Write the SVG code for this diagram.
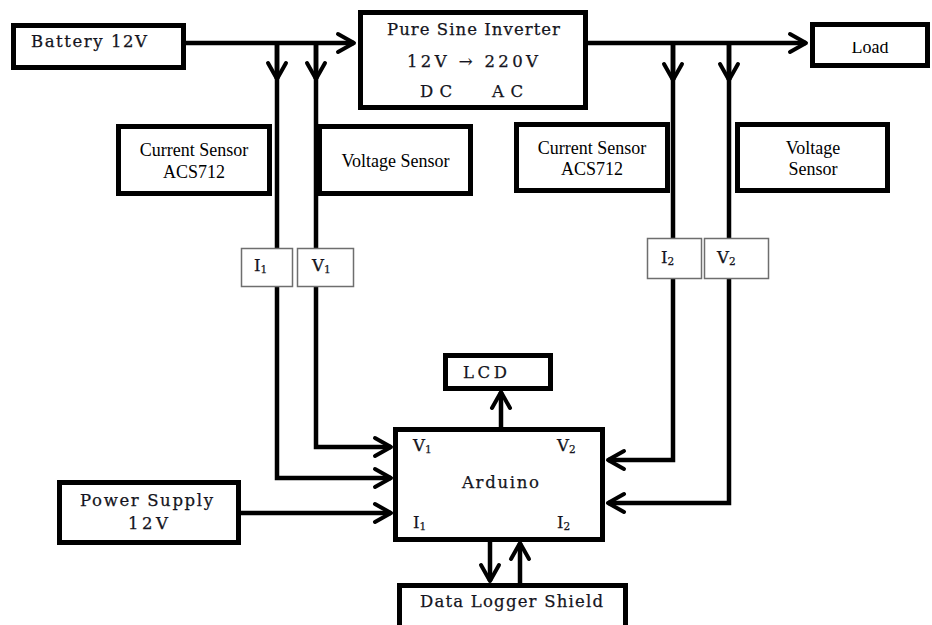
<svg xmlns="http://www.w3.org/2000/svg" width="932" height="625" viewBox="0 0 932 625">
<style>
.box{fill:#fff;stroke:#000;stroke-width:5}
.sm{fill:#fff;stroke:#6e6e6e;stroke-width:1.5}
.ln{fill:none;stroke:#000;stroke-width:4.5;stroke-linejoin:miter}
.c{font-family:"DejaVu Serif","Liberation Serif",serif;font-size:16.5px;fill:#141420;stroke:#141420;stroke-width:0.25}
.t{font-family:"Liberation Serif","Times New Roman",serif;font-size:18px;fill:#000;text-anchor:middle}
.sub{font-size:10.5px}
</style>
<defs>
<marker id="ah" markerUnits="userSpaceOnUse" markerWidth="26" markerHeight="26" viewBox="-22 -13 26 26" refX="0" refY="0" orient="auto">
<path d="M-16,-9 L0,0 L-16,9" fill="none" stroke="#000" stroke-width="4" stroke-linejoin="round" stroke-linecap="round"/>
</marker>
<clipPath id="loadclip"><rect x="812" y="42" width="116" height="24"/></clipPath>
</defs>

<g id="connectors">
<path class="ln" d="M186,43 H354" marker-end="url(#ah)"/>
<path class="ln" d="M588,43 H806" marker-end="url(#ah)"/>
<path class="ln" d="M277,43 V79" marker-end="url(#ah)"/>
<path class="ln" d="M316,43 V79" marker-end="url(#ah)"/>
<path class="ln" d="M673,43 V80" marker-end="url(#ah)"/>
<path class="ln" d="M729,43 V80" marker-end="url(#ah)"/>
<path class="ln" d="M277,41 V478 H391" marker-end="url(#ah)"/>
<path class="ln" d="M316,41 V447 H391" marker-end="url(#ah)"/>
<path class="ln" d="M241,513 H391" marker-end="url(#ah)"/>
<path class="ln" d="M673,41 V460 H608" marker-end="url(#ah)"/>
<path class="ln" d="M729,41 V503 H608" marker-end="url(#ah)"/>
<path class="ln" d="M501,428 V392" marker-end="url(#ah)"/>
<path class="ln" d="M490,541 V581" marker-end="url(#ah)"/>
<path class="ln" d="M520,583 V543" marker-end="url(#ah)"/>
</g>

<g id="battery">
<rect class="box" x="13.5" y="25.5" width="170" height="42"/>
<text class="c" x="31" y="47" font-size="17" textLength="116" lengthAdjust="spacing">Battery 12V</text>
</g>

<g id="inverter">
<rect class="box" x="360.5" y="12.5" width="225" height="95"/>
<text class="c" x="387" y="35" textLength="173" lengthAdjust="spacing">Pure Sine Inverter</text>
<text class="c" x="407" y="67" textLength="131" lengthAdjust="spacing">12V → 220V</text>
<text class="c" x="420" y="97" textLength="32" lengthAdjust="spacing">DC</text>
<text class="c" x="492" y="97" textLength="31" lengthAdjust="spacing">AC</text>
</g>

<g id="load">
<rect class="box" x="812.5" y="24.5" width="115" height="41"/>
<text class="t" x="870" y="53" clip-path="url(#loadclip)">Load</text>
</g>

<g id="current-sensor-1">
<rect class="box" x="118.5" y="126.5" width="151" height="67"/>
<text class="t" x="194" y="156">Current Sensor</text>
<text class="t" x="194" y="178">ACS712</text>
</g>

<g id="voltage-sensor-1">
<rect class="box" x="319.5" y="126.5" width="151" height="67"/>
<text class="t" x="395.5" y="167">Voltage Sensor</text>
</g>

<g id="current-sensor-2">
<rect class="box" x="516.5" y="124.5" width="151" height="66"/>
<text class="t" x="592" y="154">Current Sensor</text>
<text class="t" x="592" y="175">ACS712</text>
</g>

<g id="voltage-sensor-2">
<rect class="box" x="737.5" y="124.5" width="150" height="66"/>
<text class="t" x="813" y="154">Voltage</text>
<text class="t" x="813" y="175">Sensor</text>
</g>

<g id="i1">
<rect class="sm" x="241.5" y="248.5" width="51" height="38"/>
<text class="c" x="254" y="271">I<tspan class="sub" dy="2">1</tspan></text>
</g>
<g id="v1">
<rect class="sm" x="297.5" y="248.5" width="56" height="38"/>
<text class="c" x="312" y="271">V<tspan class="sub" dy="2">1</tspan></text>
</g>
<g id="i2">
<rect class="sm" x="647.5" y="238.5" width="54" height="40"/>
<text class="c" x="661" y="263">I<tspan class="sub" dy="2">2</tspan></text>
</g>
<g id="v2">
<rect class="sm" x="704.5" y="238.5" width="64" height="40"/>
<text class="c" x="717" y="263">V<tspan class="sub" dy="2">2</tspan></text>
</g>

<g id="lcd">
<rect class="box" x="445.5" y="355.5" width="105" height="33"/>
<text class="c" x="463" y="378" textLength="44" lengthAdjust="spacing">LCD</text>
</g>

<g id="arduino">
<rect class="box" x="395.5" y="429.5" width="207" height="110"/>
<text class="c" x="413" y="451">V<tspan class="sub" dy="2">1</tspan></text>
<text class="c" x="557" y="451">V<tspan class="sub" dy="2">2</tspan></text>
<text class="c" x="462" y="488" textLength="77" lengthAdjust="spacing">Arduino</text>
<text class="c" x="413" y="528">I<tspan class="sub" dy="2">1</tspan></text>
<text class="c" x="557" y="528">I<tspan class="sub" dy="2">2</tspan></text>
</g>

<g id="power-supply">
<rect class="box" x="59.5" y="482.5" width="179" height="60"/>
<text class="c" x="80" y="506" textLength="133" lengthAdjust="spacing">Power Supply</text>
<text class="c" x="128" y="529" textLength="40" lengthAdjust="spacing">12V</text>
</g>

<g id="data-logger">
<rect class="box" x="399.5" y="585.5" width="226" height="60"/>
<text class="c" x="420" y="607" textLength="183" lengthAdjust="spacing">Data Logger Shield</text>
</g>
</svg>
